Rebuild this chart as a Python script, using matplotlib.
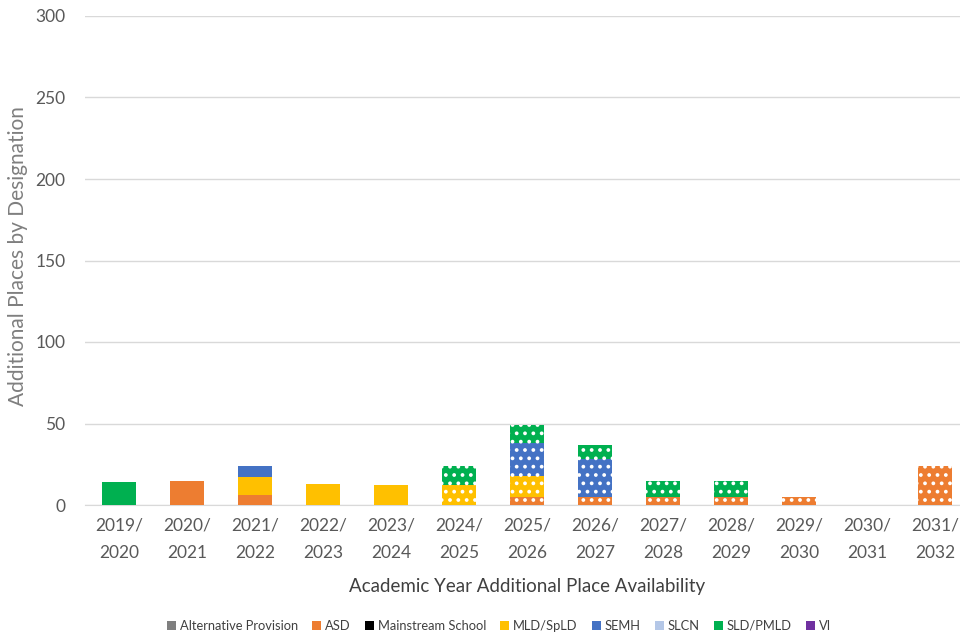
import numpy as np
import matplotlib
matplotlib.use("Agg")
import matplotlib.pyplot as plt

plt.rcParams['font.family'] = ['Lato', 'DejaVu Sans']
plt.rcParams['hatch.linewidth'] = 1.5

# academic years
years = ['2019/\n2020', '2020/\n2021', '2021/\n2022', '2022/\n2023', '2023/\n2024',
         '2024/\n2025', '2025/\n2026', '2026/\n2027', '2027/\n2028', '2028/\n2029',
         '2029/\n2030', '2030/\n2031', '2031/\n2032']

# places by designation
alt_provision = [0, 0, 0, 0, 0, 0, 0, 0, 0, 0, 0, 0, 0]
asd = [0, 15, 6, 0, 0, 0, 5, 5, 5, 5, 5, 0, 24]
mainstream = [0, 0, 0, 0, 0, 0, 0, 0, 0, 0, 0, 0, 0]
mld_spld = [0, 0, 11, 13, 12, 12, 13, 0, 0, 0, 0, 0, 0]
semh = [0, 0, 7, 0, 0, 0, 20, 23, 0, 0, 0, 0, 0]
slcn = [0, 0, 0, 0, 0, 0, 0, 0, 0, 0, 0, 0, 0]
sld_pmld = [14, 0, 0, 0, 0, 12, 11, 9, 10, 10, 0, 0, 0]
vi = [0, 0, 0, 0, 0, 0, 0, 0, 0, 0, 0, 0, 0]

# planned (not yet delivered) years are drawn with a dotted pattern
planned = [False] * 5 + [True] * 8

series = [
    ('Alternative Provision', alt_provision, '#7F7F7F'),
    ('ASD', asd, '#ED7D31'),
    ('Mainstream School', mainstream, '#000000'),
    ('MLD/SpLD', mld_spld, '#FFC000'),
    ('SEMH', semh, '#4472C4'),
    ('SLCN', slcn, '#B4C7E7'),
    ('SLD/PMLD', sld_pmld, '#00B050'),
    ('VI', vi, '#7030A0'),
]

fig = plt.figure(figsize=(9.6, 6.39), dpi=100)
ax = fig.add_axes([85 / 960, 1 - 505 / 639, 884 / 960, 489 / 639])

x = np.arange(len(years))
bottom = np.zeros(len(years))
for name, vals, col in series:
    vals = np.array(vals, dtype=float)
    bars = ax.bar(x, vals, 0.5, bottom=bottom, color=col, label=name,
                  edgecolor='white', linewidth=0, zorder=3)
    for p, pl in zip(bars.patches, planned):
        if pl:
            p.set_hatch('..')
    bottom += vals

ax.set_xlim(-0.5, len(years) - 0.5)
ax.set_ylim(0, 300)
ax.set_yticks(range(0, 301, 50))
ax.set_xticks(x)
ax.set_xticklabels(years, linespacing=1.9)
ax.tick_params(axis='both', length=0, labelsize=12.5, labelcolor='#595959')
ax.tick_params(axis='x', pad=9)
ax.tick_params(axis='y', pad=14)
ax.grid(axis='y', color='#D9D9D9', linewidth=1, zorder=0)
for s in ['top', 'right', 'left']:
    ax.spines[s].set_visible(False)
ax.spines['bottom'].set_color('#D9D9D9')

ax.set_ylabel('Additional Places by Designation', fontsize=15, color='#7F7F7F')
ax.yaxis.set_label_coords(-0.064, 0.51)
ax.set_xlabel('Academic Year Additional Place Availability', fontsize=13.5,
              color='#404040', labelpad=12)

fig.legend(loc='center', bbox_to_anchor=(499 / 960, 1 - 626 / 639), ncol=8,
           frameon=False, fontsize=9.3, handlelength=0.7, handleheight=0.7,
           handletextpad=0.3, columnspacing=1.1, labelcolor='#404040')

fig.savefig('out.png', dpi=100)
